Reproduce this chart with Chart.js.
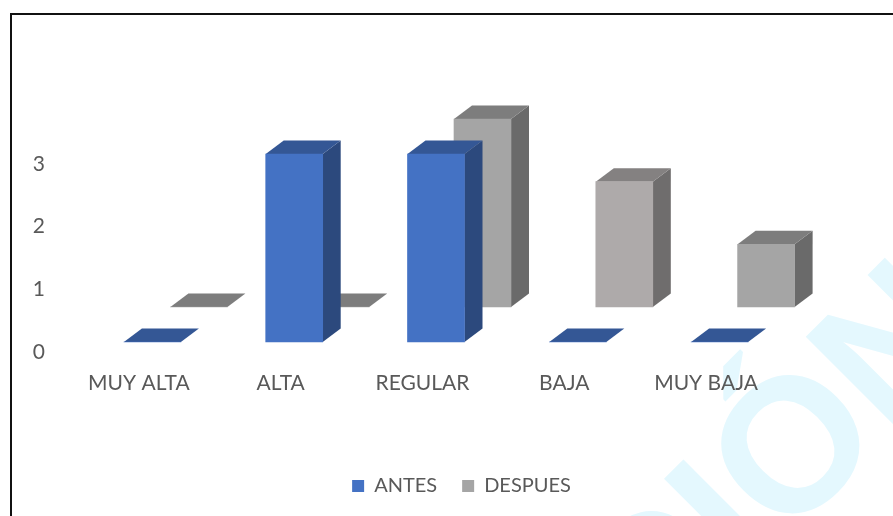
<!DOCTYPE html>
<html>
<head>
<meta charset="utf-8">
<style>
  html, body { margin: 0; padding: 0; background: #fff; overflow: hidden; }
  canvas { display: block; }
</style>
<script src="https://cdn.jsdelivr.net/npm/chart.js@4"></script>
</head>
<body>
<canvas id="chart-niveles" width="893" height="516"></canvas>
<script>
var categories = ['MUY ALTA', 'ALTA', 'REGULAR', 'BAJA', 'MUY BAJA'];
var antesValues = [0, 3, 3, 0, 0];
var despuesValues = [0, 0, 3, 2, 1];

var antesColor = '#4472C4';
var despuesColor = '#A5A5A5';
var bajaColor = '#AEAAAA';   // this one point has its own fill

var textColor = '#595959';
var fontFamily = 'Lato, "Open Sans", sans-serif';

// Depth of each box, and how far each row sits back from the axis plane
var depth = { x: 18, y: -13.5 };
var rowShift = [{ x: 13.5, y: -10 }, { x: 60, y: -45 }];

function shade(color, factor) {
  var n = parseInt(color.slice(1), 16);
  var r = Math.round((n >> 16 & 255) * factor);
  var g = Math.round((n >> 8 & 255) * factor);
  var b = Math.round((n & 255) * factor);
  return 'rgb(' + r + ',' + g + ',' + b + ')';
}

function fillPoly(ctx, pts, color) {
  ctx.fillStyle = color;
  ctx.beginPath();
  ctx.moveTo(pts[0][0], pts[0][1]);
  for (var i = 1; i < pts.length; i++) {
    ctx.lineTo(pts[i][0], pts[i][1]);
  }
  ctx.closePath();
  ctx.fill();
}

// Page background: frame lines and the pale stamp behind the chart
var backdrop = {
  id: 'backdrop',
  beforeDraw: function (chart) {
    var ctx = chart.ctx;
    ctx.save();
    ctx.fillStyle = '#fff';
    ctx.fillRect(0, 0, chart.width, chart.height);

    ctx.translate(790.5, 441);
    ctx.rotate(-Math.PI / 4);
    ctx.fillStyle = '#E4F8FE';
    ctx.font = 'bold 190px "Liberation Sans", sans-serif';
    ctx.textAlign = 'left';
    ctx.textBaseline = 'alphabetic';
    ctx.fillText('CIÓN', -266, 68);
    ctx.restore();

    ctx.fillStyle = '#111';
    ctx.fillRect(10, 13, chart.width - 10, 2);
    ctx.fillRect(10, 13, 2, chart.height - 13);
  }
};

// Pushes each row back and adds the top and side faces of its boxes
var boxes3d = {
  id: 'boxes3d',
  beforeDatasetDraw: function (chart, args) {
    var ctx = chart.ctx;
    var shift = rowShift[args.index];
    ctx.save();
    ctx.translate(shift.x, shift.y);
    args.meta.data.forEach(function (bar) {
      var left = bar.x - bar.width / 2;
      var right = bar.x + bar.width / 2;
      var color = bar.options.backgroundColor;
      fillPoly(ctx, [[right, bar.y], [right + depth.x, bar.y + depth.y],
        [right + depth.x, bar.base + depth.y], [right, bar.base]], shade(color, 0.64));
      fillPoly(ctx, [[left, bar.y], [left + depth.x, bar.y + depth.y],
        [right + depth.x, bar.y + depth.y], [right, bar.y]], shade(color, 0.76));
    });
  },
  afterDatasetDraw: function (chart) {
    chart.ctx.restore();
  }
};

var chart = new Chart(document.getElementById('chart-niveles').getContext('2d'), {
  type: 'bar',
  data: {
    labels: categories,
    datasets: [
      {
        label: 'ANTES',
        data: antesValues,
        backgroundColor: antesColor,
        clip: false
      },
      {
        label: 'DESPUES',
        data: despuesValues,
        backgroundColor: function (c) {
          return c.dataIndex === 3 ? bajaColor : despuesColor;
        },
        clip: false
      }
    ]
  },
  plugins: [backdrop, boxes3d],
  options: {
    responsive: false,
    animation: false,
    grouped: false,
    barThickness: 57,
    layout: { padding: { left: 30, right: 0, top: 164, bottom: 10 } },
    scales: {
      x: {
        grid: { display: false, drawTicks: false },
        border: { display: false },
        ticks: { color: textColor, font: { family: fontFamily, size: 21 }, padding: 19, maxRotation: 0 },
        afterFit: function (scale) { scale.height = 99; }
      },
      y: {
        min: 0,
        max: 3,
        grid: { display: false, drawTicks: false },
        border: { display: false },
        ticks: { stepSize: 1, color: textColor, font: { family: fontFamily, size: 21 }, padding: 23 },
        afterFit: function (scale) { scale.width = 38; }
      },
      // empty axis, only holds the room on the right of the plot
      spacer: {
        position: 'right',
        grid: { display: false, drawTicks: false },
        border: { display: false },
        ticks: { display: false },
        afterFit: function (scale) { scale.width = 116; }
      }
    },
    plugins: {
      tooltip: { enabled: false },
      legend: {
        position: 'bottom',
        labels: {
          color: textColor,
          boxWidth: 12,
          boxHeight: 12,
          padding: 25,
          font: { family: fontFamily, size: 20 }
        }
      }
    }
  }
});
</script>
</body>
</html>
